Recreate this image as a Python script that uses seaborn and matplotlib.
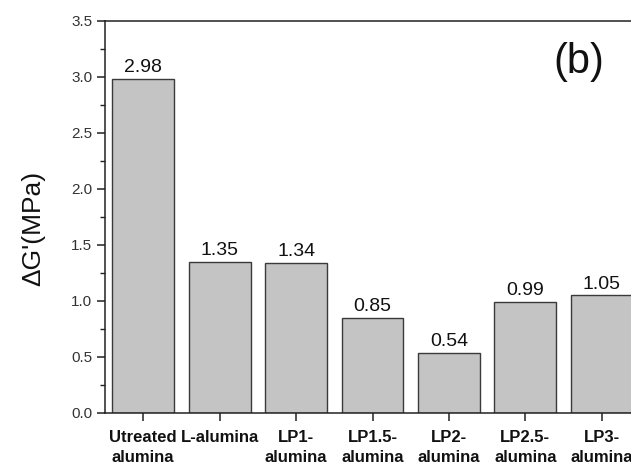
import matplotlib
matplotlib.use("Agg")
import matplotlib.pyplot as plt
import seaborn as sns
import pandas as pd

categories = ["Utreated\nalumina", "L-alumina", "LP1-\nalumina", "LP1.5-\nalumina",
              "LP2-\nalumina", "LP2.5-\nalumina", "LP3-\nalumina"]
values = [2.98, 1.35, 1.34, 0.85, 0.54, 0.99, 1.05]
value_labels = ["2.98", "1.35", "1.34", "0.85", "0.54", "0.99", "1.05"]
y_ticks = [0.0, 0.5, 1.0, 1.5, 2.0, 2.5, 3.0, 3.5]

sns.set_theme(style="ticks")
plt.rcParams['font.family'] = ['Liberation Sans', 'DejaVu Sans']

df = pd.DataFrame({"cat": categories, "val": values})

W, H = 631, 467
fig = plt.figure(figsize=(W / 100, H / 100), dpi=100)
left, right, top, bottom = 105, 640, 21, 413
ax = fig.add_axes([left / W, (H - bottom) / H, (right - left) / W, (bottom - top) / H])

sns.barplot(data=df, x="cat", y="val", ax=ax, color="#c4c4c4", width=0.81,
            edgecolor="#3a3a3a", linewidth=1.0, saturation=1)

ax.bar_label(ax.containers[0], labels=value_labels, padding=2, fontsize=14, color="#111111")

ax.set_xlim(-0.5, 6.5)
ax.set_ylim(0, 3.5)
ax.set_yticks(y_ticks)
ax.set_yticklabels([f"{t:.1f}" for t in y_ticks], fontsize=11, color="#333333")
ax.set_yticks([0.25, 0.75, 1.25, 1.75, 2.25, 2.75, 3.25], minor=True)
ax.tick_params(axis="y", which="major", length=6, width=1.1, pad=3, direction="out", color="#222222")
ax.tick_params(axis="y", which="minor", length=3.5, width=1.0, direction="out", color="#222222")
ax.tick_params(axis="x", which="major", length=6, width=1.1, pad=6, direction="out", color="#222222")
for lab in ax.get_xticklabels():
    lab.set_fontweight("bold")
    lab.set_fontsize(12)
    lab.set_linespacing(1.45)
    lab.set_color("#111111")

ax.set_xlabel("")
ax.set_ylabel("ΔG'(MPa)", fontsize=19, color="#111111")
ax.yaxis.set_label_coords(-0.112, 0.47)

for s in ["left", "top", "bottom", "right"]:
    ax.spines[s].set_visible(True)
    ax.spines[s].set_linewidth(1.1)
    ax.spines[s].set_color("#222222")

ax.text(0.885, 0.895, "(b)", transform=ax.transAxes, fontsize=30, ha="center", va="center", color="#111111")

fig.savefig("out.png", dpi=100)
